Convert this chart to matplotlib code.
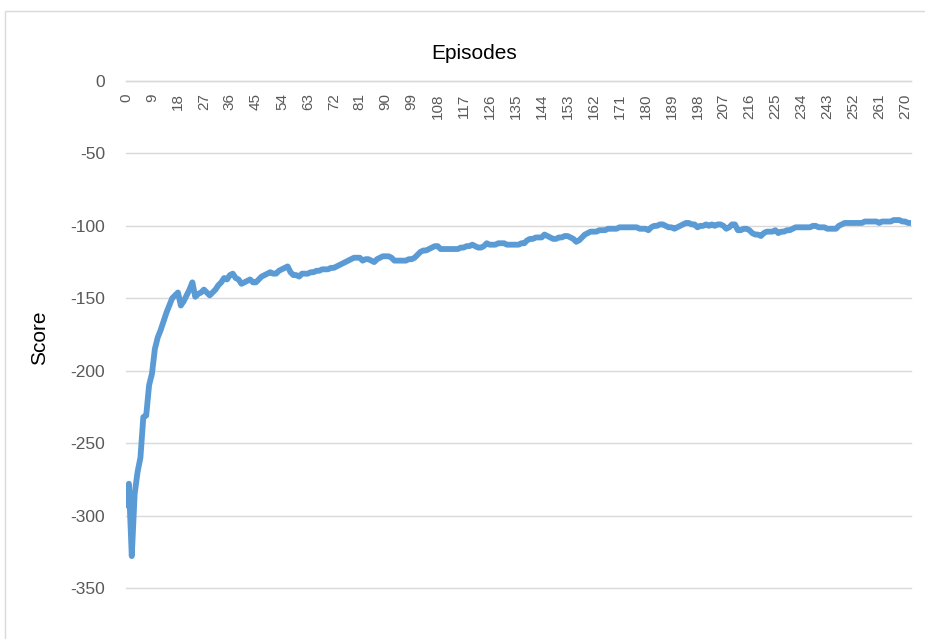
import numpy as np
import matplotlib.pyplot as plt
from matplotlib.patches import Rectangle

# score per episode (episodes 0..272)
scores = [
    -293, -278, -328, -285, -270, -260, -232, -231, -210, -202,
    -185, -177, -172, -166, -160, -155, -150, -148, -146, -155,
    -152, -148, -144, -139, -149, -147, -146, -144, -146, -148,
    -146, -144, -141, -139, -136, -137, -134, -133, -136, -137,
    -140, -139, -138, -137, -139, -139, -137, -135, -134, -133,
    -132, -133, -133, -131, -130, -129, -128, -132, -134, -134,
    -135, -133, -133, -133, -132, -132, -131, -131, -130, -130,
    -130, -129, -129, -128, -127, -126, -125, -124, -123, -122,
    -122, -122, -124, -123, -123, -124, -125, -123, -122, -121,
    -121, -121, -122, -124, -124, -124, -124, -124, -123, -123,
    -122, -120, -118, -117, -117, -116, -115, -114, -114, -116,
    -116, -116, -116, -116, -116, -116, -115, -115, -114, -114,
    -113, -114, -115, -115, -114, -112, -113, -113, -113, -112,
    -112, -112, -113, -113, -113, -113, -113, -112, -112, -110,
    -109, -109, -108, -108, -108, -106, -107, -108, -109, -109,
    -108, -108, -107, -107, -108, -109, -111, -110, -108, -106,
    -105, -104, -104, -104, -103, -103, -103, -102, -102, -102,
    -102, -101, -101, -101, -101, -101, -101, -101, -102, -102,
    -102, -103, -101, -100, -100, -99, -99, -100, -101, -101,
    -102, -101, -100, -99, -98, -98, -99, -99, -101, -100,
    -100, -99, -100, -99, -100, -99, -99, -100, -102, -101,
    -99, -99, -103, -103, -102, -102, -103, -105, -106, -106,
    -107, -105, -104, -104, -104, -103, -105, -104, -104, -103,
    -103, -102, -101, -101, -101, -101, -101, -101, -100, -100,
    -101, -101, -101, -102, -102, -102, -102, -100, -99, -98,
    -98, -98, -98, -98, -98, -98, -97, -97, -97, -97,
    -97, -98, -97, -97, -97, -97, -96, -96, -96, -97,
    -97, -98, -98,
]
episodes = np.arange(len(scores))
x_ticks = np.arange(0, 271, 9)
y_ticks = np.arange(-350, 1, 50)

W, H = 925, 639
fig = plt.figure(figsize=(W / 100, H / 100), dpi=100)

# outer chart frame (only top and left edges are in view)
fig.patches.append(Rectangle((5 / W, -0.1), 1.2, 1.1 - 11 / H, transform=fig.transFigure,
                             fill=False, edgecolor='#d9d9d9', linewidth=1.0))

ax = fig.add_axes([126 / W, 1 - 588 / H, (911 - 126) / W, (588 - 81) / H])
ax.plot(episodes, scores, color='#5b9bd5', linewidth=4.2, solid_joinstyle='round',
        solid_capstyle='round', zorder=3)

ax.set_xlim(0, len(scores) - 1)
ax.set_ylim(-350, 0)

# category axis sits on y = 0
for side in ['top', 'right', 'left']:
    ax.spines[side].set_visible(False)
ax.spines['bottom'].set_position(('data', 0))
ax.spines['bottom'].set_color('#d9d9d9')
ax.spines['bottom'].set_linewidth(1.0)

ax.set_xticks(x_ticks)
ax.set_xticklabels([str(v) for v in x_ticks], rotation=90, va='top', ha='center',
                   fontsize=11, color='#595959',
                   family=['Liberation Sans Narrow', 'Liberation Sans'])
ax.tick_params(axis='x', length=0, pad=9)

ax.set_yticks(y_ticks)
ax.set_yticklabels([str(v) for v in y_ticks], fontsize=12.5, color='#595959',
                   family='Liberation Sans')
ax.tick_params(axis='y', length=0, pad=15)
ax.yaxis.grid(True, color='#d9d9d9', linewidth=1.0)
for gl in ax.yaxis.get_gridlines():
    gl.set_clip_on(False)
ax.set_axisbelow(True)

fig.text(474 / W, 1 - 59 / H, 'Episodes', ha='center', va='baseline', fontsize=15,
         family='Liberation Sans', color='black')
fig.text(40 / W, 1 - 338 / H, 'Score', ha='center', va='center', rotation=90, fontsize=15,
         family='Liberation Sans', color='black')

fig.savefig('out.png', dpi=100)
